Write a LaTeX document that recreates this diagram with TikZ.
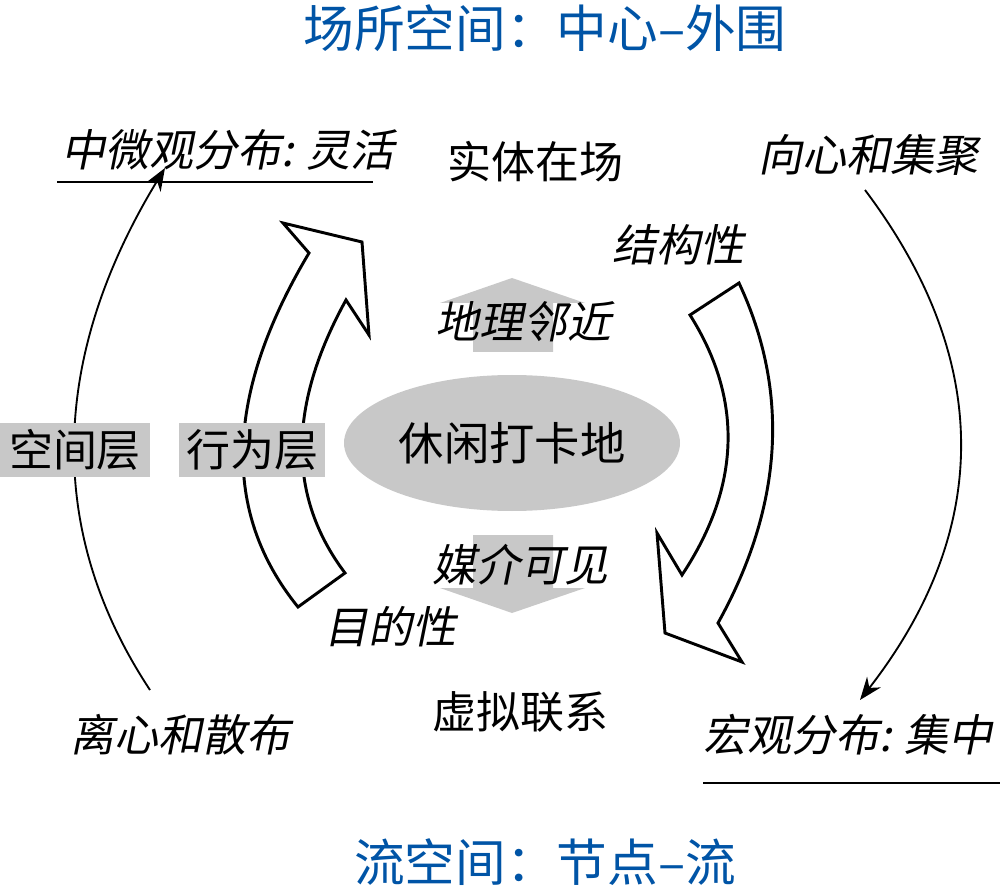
\documentclass[tikz,border=0pt]{standalone}
\usepackage{fontspec}
\newfontfamily\cjk{Noto Sans CJK SC}
\newfontfamily\cjkit[FakeSlant=0.2]{Noto Sans CJK SC}
\usetikzlibrary{arrows.meta,shapes.geometric}
\definecolor{ttl}{RGB}{0,84,166}
\definecolor{gr}{RGB}{200,200,200}
\tikzset{
  lbl/.style={font=\cjk\fontsize{33}{36}\selectfont, inner sep=0pt},
  ilbl/.style={font=\cjkit\fontsize{33}{36}\selectfont, inner sep=0pt},
  ttlnode/.style={font=\cjk\fontsize{38}{42}\selectfont, text=ttl, inner sep=0pt},
  layer/.style={lbl, fill=gr, minimum height=40.5pt, inner xsep=2pt},
  hollow/.style={draw=black, line width=2.2pt, fill=white, line join=miter},
  thin/.style={draw=black, line width=1.4pt, -{Stealth[length=17pt,width=13pt]}},
}
\begin{document}
\begin{tikzpicture}[x=0.75pt,y=-0.75pt]
\useasboundingbox (0,0) rectangle (1000,891);
% titles
\node[ttlnode] (t1) at (545,28) {场所空间：中心–外围};
\node[ttlnode] (t2) at (545,862) {流空间：节点–流};
% gray arrows
\fill[gr] (512,278) -- (585,303) -- (553,303) -- (553,352) -- (473,352) -- (473,303) -- (440,303) -- cycle;
\fill[gr] (512,613) -- (585,588) -- (553,588) -- (553,535) -- (473,535) -- (473,588) -- (440,588) -- cycle;
% ellipse
\node[ellipse, fill=gr, minimum width=252pt, minimum height=102pt, inner sep=0pt, font=\cjk\fontsize{34}{37}\selectfont] (c) at (512,443) {休闲打卡地};
% hollow arrows
\draw[hollow] (298,607) .. controls (221,512) and (225,394) .. (309,253)
  -- (283,223) -- (362,242) -- (369,335) -- (346,300)
  .. controls (288,405) and (287,496) .. (345,573) -- cycle;
\draw[hollow] (690,315) -- (739,283)
  .. controls (790,392) and (783,506) .. (718,623)
  -- (742,662) -- (665,633) -- (657,533) -- (682,575)
  .. controls (741,486) and (743,399) .. (690,315) -- cycle;
% labels
\node[ilbl] (m1) at (228,150) {中微观分布: 灵活};
\node[lbl] (e1) at (535,162) {实体在场};
\node[ilbl] (cj) at (868,155) {向心和集聚};
\node[ilbl] (jg) at (678,245) {结构性};
\node[ilbl] (dl) at (523,322) {地理邻近};
\node[ilbl] (mj) at (520,565) {媒介可见};
\node[ilbl] (md) at (390,627) {目的性};
\node[lbl] (xn) at (520,712) {虚拟联系};
\node[ilbl] (lx) at (180,735) {离心和散布};
\node[ilbl] (hg) at (848,735) {宏观分布: 集中};
% underlines
\coordinate (u1a) at (57,182); \coordinate (u1b) at (373,182);
\coordinate (u2a) at (703,783); \coordinate (u2b) at (1000,783);
\draw[line width=1.6pt] (u1a) -- (u1b);
\draw[line width=1.6pt] (u2a) -- (u2b);
% thin arrows
\coordinate (la) at (150,690); \coordinate (lb) at (165,168);
\coordinate (ra) at (865,190); \coordinate (rb) at (860,700);
\draw[thin] (la) .. controls (45,531) and (50,357) .. (lb);
\draw[thin] (ra) .. controls (993,360) and (992,530) .. (rb);
% layer labels
\node[layer, minimum width=112pt] (s) at (75,450) {空间层};
\node[layer, minimum width=109pt] (b) at (252,450) {行为层};
\end{tikzpicture}
\end{document}
